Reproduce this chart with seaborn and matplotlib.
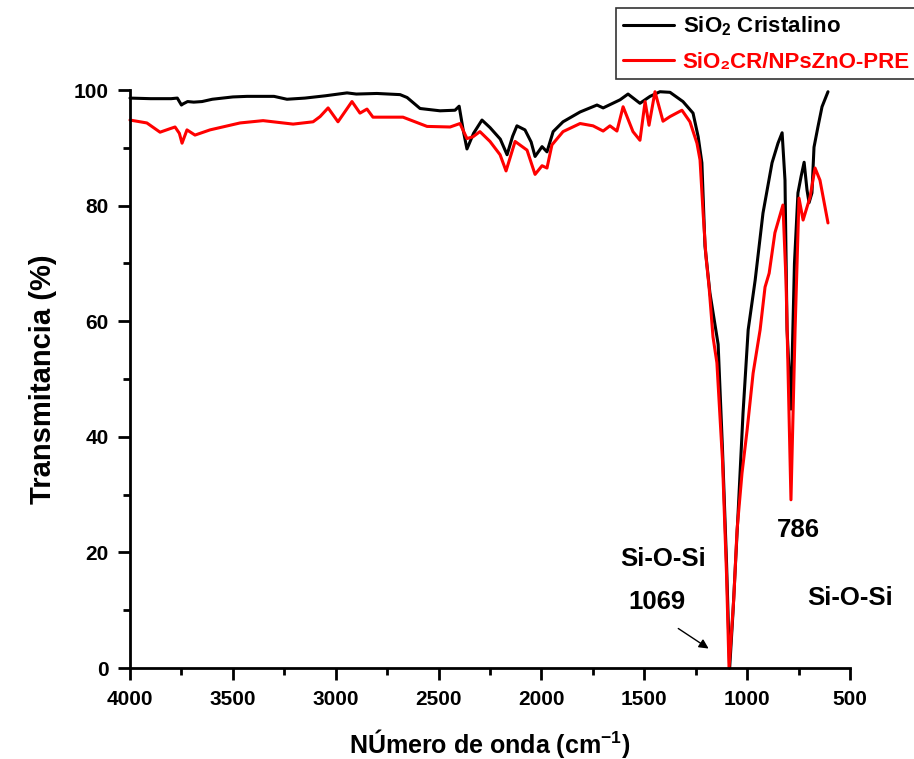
import numpy as np
import pandas as pd
import matplotlib
matplotlib.use("Agg")
import matplotlib.pyplot as plt
import seaborn as sns

# ---- data ----
wn_black = [4000, 3900, 3800, 3770, 3750, 3742, 3720, 3690, 3650, 3600, 3500, 3431, 3300, 3237,
            3150, 3050, 2945, 2900, 2800, 2687, 2653, 2590, 2493, 2420, 2400, 2380, 2362, 2330,
            2289, 2250, 2200, 2167, 2140, 2119, 2080, 2050, 2031, 1997, 1973, 1943, 1895, 1812,
            1730, 1700, 1618, 1579, 1521, 1472, 1424, 1375, 1312, 1263, 1238, 1220, 1205, 1181,
            1141, 1120, 1100, 1085, 1069, 1044, 1020, 995, 961, 923, 879, 850, 830, 816, 806,
            787, 770, 753, 738, 723, 709, 699, 685, 675, 656, 636, 607]
t_black = [98.6, 98.5, 98.5, 98.6, 97.4, 97.6, 98.0, 97.9, 98.0, 98.4, 98.8, 98.9, 98.9, 98.4,
           98.6, 99.0, 99.5, 99.3, 99.4, 99.2, 98.7, 96.8, 96.4, 96.5, 97.2, 93.0, 89.8, 92.5,
           94.8, 93.5, 91.5, 88.8, 92.0, 93.8, 93.1, 91.0, 88.5, 90.2, 89.3, 92.8, 94.5, 96.2,
           97.4, 96.9, 98.3, 99.3, 97.7, 98.9, 99.7, 99.6, 98.0, 96.0, 91.9, 87.4, 73.0, 64.9,
           56.0, 38.0, 18.0, 0.0, 9.5, 26.8, 44.1, 58.5, 67.1, 78.7, 87.4, 90.8, 92.6, 84.4, 58.5,
           44.8, 70.0, 82.2, 85.0, 87.5, 82.7, 80.5, 82.2, 90.1, 93.6, 97.1, 99.7]

wn_red = [4000, 3918, 3854, 3806, 3781, 3760, 3747, 3723, 3684, 3611, 3465, 3353, 3207, 3110,
          3076, 3037, 2989, 2921, 2882, 2848, 2819, 2673, 2556, 2444, 2396, 2362, 2333, 2299,
          2250, 2201, 2172, 2128, 2070, 2031, 1997, 1973, 1949, 1895, 1812, 1749, 1700, 1667,
          1633, 1603, 1555, 1521, 1496, 1477, 1448, 1409, 1375, 1317, 1278, 1244, 1229, 1214,
          1200, 1185, 1166, 1147, 1120, 1100, 1088, 1065, 1049, 1025, 1000, 971, 937, 913, 893,
          865, 826, 811, 787, 767, 748, 728, 694, 670, 646, 607]
t_red = [94.8, 94.3, 92.7, 93.3, 93.6, 92.5, 90.8, 93.1, 92.2, 93.1, 94.3, 94.7, 94.1, 94.5,
         95.4, 96.9, 94.5, 98.0, 96.0, 96.7, 95.3, 95.3, 93.7, 93.6, 94.2, 91.6, 91.9, 92.8,
         91.1, 88.8, 86.0, 91.1, 89.6, 85.4, 86.9, 86.5, 90.5, 92.8, 94.2, 93.8, 92.9, 93.8,
         92.9, 97.1, 92.8, 91.3, 98.0, 93.9, 99.7, 94.6, 95.4, 96.5, 94.5, 90.8, 87.9, 78.7,
         71.1, 65.9, 57.3, 52.8, 36.0, 16.0, 0.0, 12.0, 23.9, 33.7, 41.2, 51.0, 58.5, 65.9, 68.3,
         75.3, 80.1, 67.0, 29.1, 58.5, 81.3, 77.5, 81.5, 86.5, 84.4, 77.0]

label_black = r"SiO$_{\mathbf{2}}$ Cristalino"
label_red = "SiO₂CR/NPsZnO-PRE"
x_ticks = [4000, 3500, 3000, 2500, 2000, 1500, 1000, 500]
y_ticks = [0, 20, 40, 60, 80, 100]

sns.set_style("white")
plt.rcParams['font.family'] = ['Liberation Sans', 'DejaVu Sans']
plt.rcParams['font.weight'] = 'bold'
plt.rcParams['text.color'] = 'black'
plt.rcParams['axes.labelcolor'] = 'black'
plt.rcParams['xtick.color'] = 'black'
plt.rcParams['ytick.color'] = 'black'
plt.rcParams['mathtext.fontset'] = 'custom'
plt.rcParams['mathtext.rm'] = 'Liberation Sans:bold'
plt.rcParams['mathtext.bf'] = 'Liberation Sans:bold'
plt.rcParams['mathtext.it'] = 'Liberation Sans:bold'

fig = plt.figure(figsize=(9.14, 7.59), dpi=100)
ax = fig.add_axes([130/914, 1-668/759, 720/914, (668-90)/759])

df_b = pd.DataFrame({"wn": wn_black, "T": t_black})
df_r = pd.DataFrame({"wn": wn_red, "T": t_red})
sns.lineplot(data=df_b, x="wn", y="T", ax=ax, color="black", lw=2.2, sort=False,
             estimator=None, label=label_black, clip_on=False)
sns.lineplot(data=df_r, x="wn", y="T", ax=ax, color="#ff0000", lw=2.2, sort=False,
             estimator=None, label=label_red, clip_on=False)

ax.set_xlim(4000, 500)
ax.set_ylim(0, 100)
ax.set_xticks(x_ticks)
ax.set_yticks(y_ticks)
ax.set_xticks(np.arange(3750, 500, -500), minor=True)
ax.set_yticks(np.arange(10, 100, 20), minor=True)
ax.tick_params(axis='both', which='major', direction='out', length=8.5, width=2, pad=7,
               labelsize=15, colors='black', bottom=True, left=True)
ax.tick_params(axis='both', which='minor', direction='out', length=5, width=2,
               bottom=True, left=True)
for lab in ax.get_xticklabels() + ax.get_yticklabels():
    lab.set_fontweight('bold')
for s in ['top', 'right']:
    ax.spines[s].set_visible(False)
for s in ['left', 'bottom']:
    ax.spines[s].set_linewidth(2)
    ax.spines[s].set_color('black')

ax.set_xlabel(r"NÚmero de onda (cm$^{\mathbf{-1}}$)", fontsize=18, fontweight='bold', labelpad=13)
ax.set_ylabel("Transmitancia (%)", fontsize=21, fontweight='bold', labelpad=12)

ann_size = 18.5
ax.text(1409, 18.9, "Si-O-Si", fontsize=ann_size, fontweight='bold', ha='center', va='center')
ax.text(1438, 11.4, "1069", fontsize=ann_size, fontweight='bold', ha='center', va='center')
ax.text(500, 12.1, "Si-O-Si", fontsize=ann_size, fontweight='bold', ha='center', va='center')
ax.text(753, 23.9, "786", fontsize=ann_size, fontweight='bold', ha='center', va='center')
ax.annotate("", xy=(1176, 3.1), xytext=(1346, 7.1),
            arrowprops=dict(arrowstyle='-|>', color='black', lw=1, mutation_scale=14))

ax.get_legend().remove()
h, l = ax.get_legend_handles_labels()
leg = fig.legend(h, l, loc='upper left', bbox_to_anchor=(616/914, 1-8/759),
                 frameon=True, fancybox=False, edgecolor='black', fontsize=16,
                 handlelength=2.3, borderpad=0.3, labelspacing=0.6, handletextpad=0.4,
                 borderaxespad=0)
leg.get_frame().set_linewidth(1.2)
for t in leg.get_texts():
    t.set_fontweight('bold')
leg.get_texts()[1].set_color('#ff0000')

fig.savefig("out.png", dpi=100)
